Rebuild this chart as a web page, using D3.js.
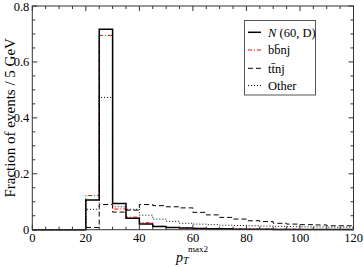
<!DOCTYPE html>
<html><head><meta charset="utf-8">
<script src="https://cdn.jsdelivr.net/npm/d3@7"></script>
<style>body{margin:0;background:#fff}svg{display:block}</style>
</head><body><svg id="c" width="364" height="267" font-family="Liberation Serif, Times New Roman, serif"></svg>
<script>
const binEdges = d3.range(0, 125, 5);
const seriesNames = ["N (60, D)", "bb̄nj", "tt̄nj", "Other"];
const valsN = [0,0,0,0,0.106,0.717,0.094,0.041,0.020,0.011,0.008,0.006,0.004,0.003,0.003,0.002,0.002,0.002,0.001,0.001,0.001,0.001,0.001,0.001];
const valsBB = [0,0,0,0,0.122,0.695,0.074,0.045,0.025,0.012,0.008,0.006,0.005,0.004,0.003,0.003,0.002,0.002,0.002,0.002,0.001,0.001,0.001,0.001];
const valsTT = [0,0,0,0,0.008,0.090,0.063,0.070,0.090,0.086,0.082,0.078,0.062,0.053,0.044,0.038,0.032,0.029,0.023,0.020,0.018,0.017,0.014,0.014];
const valsOther = [0,0,0,0,0.073,0.473,0.082,0.073,0.052,0.038,0.030,0.023,0.020,0.018,0.016,0.015,0.014,0.013,0.012,0.011,0.010,0.010,0.009,0.009];
const xTicks = [0,20,40,60,80,100,120];
const yTicks = [0,0.2,0.4,0.6,0.8];

const svg = d3.select("#c");
const FF = "Liberation Serif, Times New Roman, serif";
const L = 32.3, R = 353.5, T = 6, B = 229.7;
const x = d3.scaleLinear().domain([0,120]).range([L,R]);
const y = d3.scaleLinear().domain([0,0.8]).range([B,T]);

const styles = [
  {vals: valsOther, color:"#000", dash:"1,2", w:1},
  {vals: valsTT, color:"#000", dash:"5,3", w:1},
  {vals: valsBB, color:"#f00", dash:"4,2,1,2", w:1},
  {vals: valsN, color:"#000", dash:null, w:1.5}
];
const line = d3.line().x(d=>x(d[0])).y(d=>y(d[1]));
function pts(vals){
  const p=[[binEdges[0],0]];
  vals.forEach((v,i)=>{p.push([binEdges[i],v]);p.push([binEdges[i+1],v]);});
  return p;
}
const g = svg.append("g");
styles.forEach(s=>{
  g.append("path").attr("d", line(pts(s.vals))).attr("fill","none")
   .attr("stroke", s.color).attr("stroke-width", s.w)
   .attr("stroke-dasharray", s.dash);
});

svg.append("rect").attr("x",L).attr("y",T).attr("width",R-L).attr("height",B-T)
  .attr("fill","none").attr("stroke","#333").attr("stroke-width",1);

const tickCol="#333";
d3.range(0,121,5).forEach(v=>{
  const major = v%20===0;
  const len = major?5:3;
  svg.append("line").attr("x1",x(v)).attr("x2",x(v)).attr("y1",B).attr("y2",B-len).attr("stroke",tickCol);
  svg.append("line").attr("x1",x(v)).attr("x2",x(v)).attr("y1",T).attr("y2",T+len).attr("stroke",tickCol);
});
d3.range(0,0.8001,0.05).forEach(v=>{
  const major = Math.abs(v/0.2-Math.round(v/0.2))<1e-6;
  const len = major?5:3;
  svg.append("line").attr("x1",L).attr("x2",L+len).attr("y1",y(v)).attr("y2",y(v)).attr("stroke",tickCol);
  svg.append("line").attr("x1",R).attr("x2",R-len).attr("y1",y(v)).attr("y2",y(v)).attr("stroke",tickCol);
});
xTicks.forEach(v=>{
  svg.append("text").attr("font-family",FF).attr("x",x(v)).attr("y",242).attr("text-anchor","middle").attr("font-size",12.5).text(v);
});
yTicks.forEach(v=>{
  svg.append("text").attr("font-family",FF).attr("x",L-3).attr("y",y(v)+4.5).attr("text-anchor","end").attr("font-size",12.5).text(v===0?"0":d3.format(".1f")(v));
});
svg.append("text").attr("font-family",FF).attr("transform",`translate(15,${(T+B)/2}) rotate(-90)`).attr("text-anchor","middle")
  .attr("font-size",15).text("Fraction of events / 5 GeV");
const xl = svg.append("text").attr("font-family",FF).attr("x",176).attr("y",262).attr("font-size",14);
xl.append("tspan").attr("font-style","italic").text("p");
xl.append("tspan").attr("font-style","italic").attr("font-size",10).attr("dy",2).text("T");
svg.append("text").attr("font-family",FF).attr("x",188).attr("y",252).attr("font-size",9).text("max2");

svg.append("rect").attr("x",244.5).attr("y",20.5).attr("width",71).attr("height",74.5)
  .attr("fill","#fff").attr("stroke","#555");
const rows=[32.3,50,68.3,85.5];
const legStyles=[styles[3],styles[2],styles[1],styles[0]];
rows.forEach((ry,i)=>{
  const s=legStyles[i];
  svg.append("line").attr("x1",248).attr("x2",261).attr("y1",ry).attr("y2",ry)
    .attr("stroke",s.color).attr("stroke-width",s.w).attr("stroke-dasharray",s.dash);
  const t=svg.append("text").attr("font-family",FF).attr("x",268).attr("y",ry+4.3).attr("font-size",12.5);
  if(i===0){
    t.append("tspan").attr("font-style","italic").text("N");
    t.append("tspan").text(" (60, D)");
  } else t.text(seriesNames[i]);
});
</script></body></html>
